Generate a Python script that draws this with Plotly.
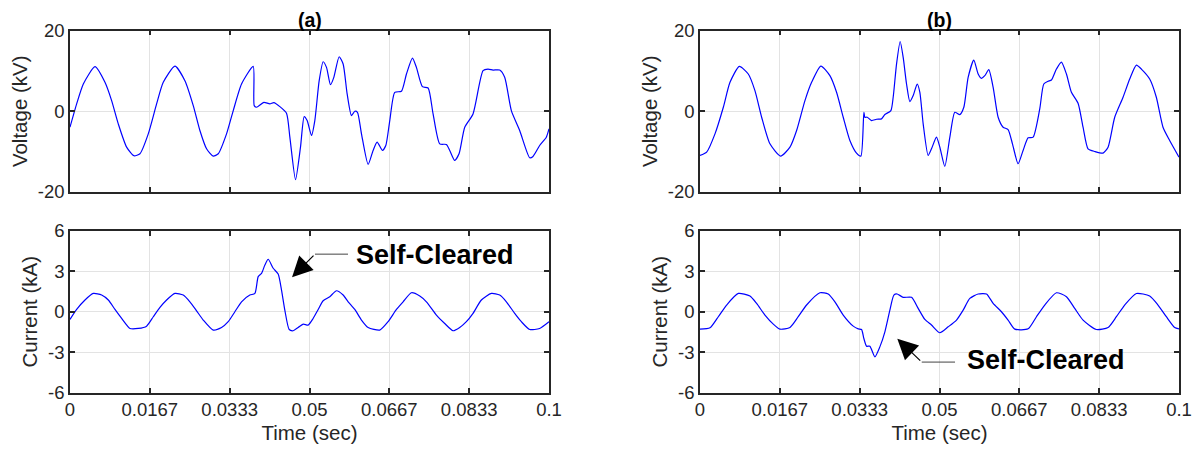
import plotly.graph_objects as go

# ---------------- data ----------------
t_va = [0, 0.00139, 0.00278, 0.00522, 0.00730, 0.00869, 0.01008, 0.01182, 0.01335, 0.01460,
        0.01634, 0.01808, 0.01947, 0.02191, 0.02399, 0.02573, 0.02712, 0.02851, 0.02990, 0.03095,
        0.03268, 0.03408, 0.03581, 0.03825, 0.03846, 0.03894, 0.04047, 0.04172, 0.04256, 0.04381,
        0.04520, 0.04590, 0.04708, 0.04812, 0.04889, 0.04951, 0.05042, 0.05111, 0.05202, 0.05285,
        0.05355, 0.05438, 0.05508, 0.05619, 0.05702, 0.05786, 0.05876, 0.05946, 0.06001, 0.06085,
        0.06224, 0.06328, 0.06412, 0.06523, 0.06593, 0.06676, 0.06780, 0.06919, 0.07024, 0.07149,
        0.07232, 0.07357, 0.07476, 0.07580, 0.07719, 0.07858, 0.07928, 0.08032, 0.08122, 0.08241,
        0.08414, 0.08623, 0.08727, 0.08832, 0.08971, 0.09075, 0.09214, 0.09388, 0.09597, 0.09666,
        0.09805, 0.09944, 0.1]
v_a = [-3.95, 1.81, 6.75, 11.03, 7.16, 2.63, -3.13, -8.89, -11.03, -10.53,
       -5.60, 1.81, 7.16, 11.19, 7.57, 1.40, -4.77, -9.30, -11.11, -10.53,
       -5.60, 0.16, 6.75, 11.11, 1.40, 0.99, 2.22, 1.81, 2.14, 1.15,
       -0.49, -6.42, -16.95, -8.89, -1.32, -2.30, -6.01, -2.30, 7.57, 12.26,
       10.86, 6.58, 8.40, 13.50, 11.69, 4.28, -1.07, 0.0, -0.25, -5.60,
       -13.17, -9.71, -7.65, -9.71, -8.48, -2.30, 4.69, 4.94, 9.22, 13.17,
       10.86, 6.09, 5.76, -0.66, -8.07, -8.23, -9.71, -12.18, -10.53, -3.95,
       -0.66, 10.04, 10.45, 10.21, 10.21, 8.40, 0.16, -4.77, -11.52, -11.19,
       -8.48, -6.42, -4.36]

t_vb = [0, 0.00139, 0.00313, 0.00487, 0.00626, 0.00821, 0.01008, 0.01147, 0.01287, 0.01460,
        0.01683, 0.01878, 0.02017, 0.02191, 0.02330, 0.02524, 0.02712, 0.02851, 0.02990, 0.03129,
        0.03268, 0.03359, 0.03421, 0.03442, 0.03491, 0.03581, 0.03686, 0.03790, 0.03860, 0.03985,
        0.04033, 0.04103, 0.04179, 0.04242, 0.04312, 0.04381, 0.04451, 0.04534, 0.04590, 0.04659,
        0.04763, 0.04833, 0.04937, 0.05007, 0.05111, 0.05216, 0.05320, 0.05424, 0.05508, 0.05598,
        0.05716, 0.05807, 0.05876, 0.05946, 0.06029, 0.06120, 0.06224, 0.06328, 0.06432, 0.06523,
        0.06641, 0.06745, 0.06850, 0.06954, 0.07093, 0.07177, 0.07267, 0.07337, 0.07441, 0.07545,
        0.07650, 0.07754, 0.07893, 0.07997, 0.08101, 0.08241, 0.08414, 0.08519, 0.08658, 0.08832,
        0.08971, 0.09110, 0.09214, 0.09388, 0.09527, 0.09666, 0.09805, 0.1]
v_b = [-10.95, -10.12, -5.60, 0.99, 7.16, 11.11, 9.22, 5.10, -1.48, -8.07,
       -11.11, -8.89, -4.77, 2.63, 7.16, 11.19, 8.81, 4.69, -1.48, -7.24,
       -10.37, -11.11, -0.25, -1.48, -1.48, -2.30, -1.98, -1.89, -0.82, 0.16,
       3.46, 11.69, 17.28, 13.33, 6.75, 2.39, 3.87, 6.75, 4.69, -3.13,
       -10.95, -9.30, -6.42, -8.89, -13.66, -6.42, -0.25, -0.82, 0.99, 8.40,
       12.67, 9.22, 8.15, 8.81, 10.29, 5.93, -1.48, -3.95, -4.53, -8.07,
       -13.00, -9.71, -6.58, -6.42, 0.58, 6.75, 7.41, 7.74, 10.45, 12.18,
       9.22, 4.69, 1.98, -3.95, -9.30, -9.96, -10.37, -8.89, -1.48, 3.46,
       7.98, 11.44, 10.45, 7.98, 3.46, -3.95, -7.24, -11.36]

t_ia = [0, 0.00139, 0.00313, 0.00487, 0.00661, 0.00800, 0.00939, 0.01078, 0.01252, 0.01426,
        0.01599, 0.01739, 0.01878, 0.02017, 0.02191, 0.02364, 0.02503, 0.02643, 0.02782, 0.02990,
        0.03164, 0.03303, 0.03442, 0.03581, 0.03755, 0.03860, 0.03929, 0.03999, 0.04068, 0.04138,
        0.04242, 0.04346, 0.04416, 0.04485, 0.04576, 0.04659, 0.04763, 0.04868, 0.04972, 0.05076,
        0.05181, 0.05285, 0.05424, 0.05563, 0.05702, 0.05807, 0.05946, 0.06085, 0.06224, 0.06467,
        0.06641, 0.06815, 0.06954, 0.07128, 0.07302, 0.07441, 0.07650, 0.07823, 0.07997, 0.08136,
        0.08275, 0.08414, 0.08588, 0.08797, 0.08971, 0.09110, 0.09284, 0.09423, 0.09597, 0.09805,
        0.1]
i_a = [-0.57, 0.17, 0.87, 1.36, 1.24, 0.87, 0.17, -0.50, -1.24, -1.24,
       -1.07, -0.37, 0.32, 0.87, 1.36, 1.24, 0.74, 0.07, -0.62, -1.36,
       -1.17, -0.74, 0.0, 0.74, 1.24, 1.36, 2.61, 2.85, 3.47, 3.90,
       3.23, 2.80, 1.61, 0.12, -1.32, -1.41, -1.17, -0.92, -0.99, -0.50,
       0.17, 0.82, 1.12, 1.56, 1.24, 0.74, 0.17, -0.62, -1.17, -1.36,
       -0.74, 0.17, 0.74, 1.41, 1.17, 0.74, -0.25, -0.87, -1.41, -1.17,
       -0.74, -0.12, 0.87, 1.36, 1.24, 0.74, -0.12, -0.74, -1.32, -1.24,
       -0.74]

t_ib = [0, 0.00209, 0.00382, 0.00556, 0.00800, 0.01043, 0.01182, 0.01356, 0.01530, 0.01669,
        0.01878, 0.02051, 0.02225, 0.02503, 0.02677, 0.02816, 0.02990, 0.03199, 0.03303, 0.03373,
        0.03421, 0.03477, 0.03547, 0.03651, 0.03755, 0.03860, 0.03964, 0.04047, 0.04117, 0.04242,
        0.04416, 0.04555, 0.04694, 0.04833, 0.05007, 0.05181, 0.05355, 0.05494, 0.05633, 0.05807,
        0.05981, 0.06120, 0.06293, 0.06432, 0.06572, 0.06850, 0.07024, 0.07197, 0.07441, 0.07650,
        0.07823, 0.07997, 0.08275, 0.08519, 0.08693, 0.08866, 0.09110, 0.09388, 0.09562, 0.09736,
        0.09910, 0.1]
i_b = [-1.29, -1.19, -0.37, 0.50, 1.36, 1.17, 0.62, -0.25, -0.92, -1.29,
       -1.17, -0.37, 0.50, 1.41, 1.32, 0.74, -0.25, -1.07, -1.27, -1.32,
       -1.99, -2.56, -2.56, -3.35, -2.61, -1.49, 0.12, 1.24, 1.32, 1.07,
       1.07, 0.25, -0.57, -0.99, -1.56, -1.12, -0.62, 0.12, 0.99, 1.32,
       1.32, 0.62, 0.0, -0.62, -1.29, -1.27, -0.37, 0.50, 1.41, 1.12,
       0.25, -0.62, -1.32, -1.17, -0.37, 0.50, 1.36, 1.17, 0.50, -0.37,
       -1.17, -1.27]

x_tickvals = [0, 1 / 60, 2 / 60, 0.05, 4 / 60, 5 / 60, 0.1]
x_ticktext = ["0", "0.0167", "0.0333", "0.05", "0.0667", "0.0833", "0.1"]
v_tickvals = [-20, 0, 20]
v_ticktext = ["-20", "0", "20"]
i_tickvals = [-6, -3, 0, 3, 6]
i_ticktext = ["-6", "-3", "0", "3", "6"]
panel_titles = ["(a)", "(b)"]
note_text = "Self-Cleared"

# ---------------- styling ----------------
FONT = "Arial, Liberation Sans, Helvetica, sans-serif"
INK = "#262626"
GRID = "#e3e3e3"
BLUE = "#0000ff"

fig = go.Figure()
series = [(t_va, v_a, "x", "y"), (t_vb, v_b, "x2", "y2"),
          (t_ia, i_a, "x3", "y3"), (t_ib, i_b, "x4", "y4")]
for tx, vy, xa, ya in series:
    fig.add_trace(go.Scatter(x=tx, y=vy, xaxis=xa, yaxis=ya, mode="lines",
                             line=dict(color=BLUE, width=1.2, shape="spline", smoothing=0.6),
                             showlegend=False, hoverinfo="skip"))

xdom_l = [70 / 1193, 549 / 1193]
xdom_r = [700 / 1193, 1179 / 1193]
ydom_top = [1 - 192 / 450, 1 - 30.5 / 450]
ydom_bot = [1 - 392.5 / 450, 1 - 231 / 450]


def xaxis(dom, anchor, labels):
    d = dict(domain=dom, anchor=anchor, range=[0, 0.1], tickmode="array",
             tickvals=x_tickvals, ticktext=x_ticktext if labels else [""] * len(x_tickvals),
             showgrid=True, gridcolor=GRID, gridwidth=1, zeroline=False, automargin=False,
             showline=True, linecolor=INK, linewidth=1.5, mirror="ticks",
             ticks="inside", ticklen=5, tickwidth=1.5, tickcolor=INK,
             tickfont=dict(family=FONT, size=18.5, color=INK))
    if labels:
        d["title"] = dict(text="Time (sec)", font=dict(family=FONT, size=20.5, color=INK), standoff=6)
    return d


def yaxis(dom, anchor, rng, tv, tt, title):
    d = dict(domain=dom, anchor=anchor, range=rng, tickmode="array", tickvals=tv, ticktext=tt,
             showgrid=True, gridcolor=GRID, gridwidth=1, zeroline=False, automargin=False,
             showline=True, linecolor=INK, linewidth=1.5, mirror="ticks",
             ticks="inside", ticklen=5, tickwidth=1.5, tickcolor=INK,
             tickfont=dict(family=FONT, size=18.5, color=INK))
    if title:
        d["title"] = dict(text=title, font=dict(family=FONT, size=20.5, color=INK), standoff=5)
    return d


fig.update_layout(
    width=1193, height=450, margin=dict(l=0, r=0, t=0, b=0, autoexpand=False),
    paper_bgcolor="white", plot_bgcolor="white",
    xaxis=xaxis(xdom_l, "y", False),
    xaxis2=xaxis(xdom_r, "y2", False),
    xaxis3=xaxis(xdom_l, "y3", True),
    xaxis4=xaxis(xdom_r, "y4", True),
    yaxis=yaxis(ydom_top, "x", [-20, 20], v_tickvals, v_ticktext, "Voltage (kV)"),
    yaxis2=yaxis(ydom_top, "x2", [-20, 20], v_tickvals, v_ticktext, "Voltage (kV)"),
    yaxis3=yaxis(ydom_bot, "x3", [-6, 6], i_tickvals, i_ticktext, "Current (kA)"),
    yaxis4=yaxis(ydom_bot, "x4", [-6, 6], i_tickvals, i_ticktext, "Current (kA)"),
)

# panel titles
for txt, xr in zip(panel_titles, ["x", "x2"]):
    fig.add_annotation(text="<b>%s</b>" % txt, xref=xr + " domain", yref="paper",
                       x=0.5, y=1 - 20 / 450, xanchor="center", yanchor="middle",
                       showarrow=False, font=dict(family=FONT, size=19.5, color="black"))

# "Self-Cleared" callouts: (head_t, head_i, bend_t, bend_i, end_t, text_t, text_i, axes)
callouts = [(0.04635, 2.57, 0.05115, 4.28, 0.05804, 0.05929, 4.20, "x3", "y3"),
            (0.04119, -2.00, 0.04629, -3.74, 0.05324, 0.05532, -3.62, "x4", "y4")]
for ht, hi, bt, bi, et, tt_, ti, xr, yr in callouts:
    fig.add_shape(type="line", xref=xr, yref=yr, x0=bt, y0=bi, x1=et, y1=bi,
                  line=dict(color="#444444", width=1))
    fig.add_annotation(text="", xref=xr, yref=yr, x=ht, y=hi, axref=xr, ayref=yr,
                       ax=bt, ay=bi, showarrow=True, arrowhead=2, arrowsize=3.4,
                       arrowwidth=1.2, arrowcolor="black")
    fig.add_annotation(text="<b>%s</b>" % note_text, xref=xr, yref=yr, x=tt_, y=ti,
                       xanchor="left", yanchor="middle", showarrow=False,
                       font=dict(family=FONT, size=27, color="black"))

fig.write_html("out.html")
